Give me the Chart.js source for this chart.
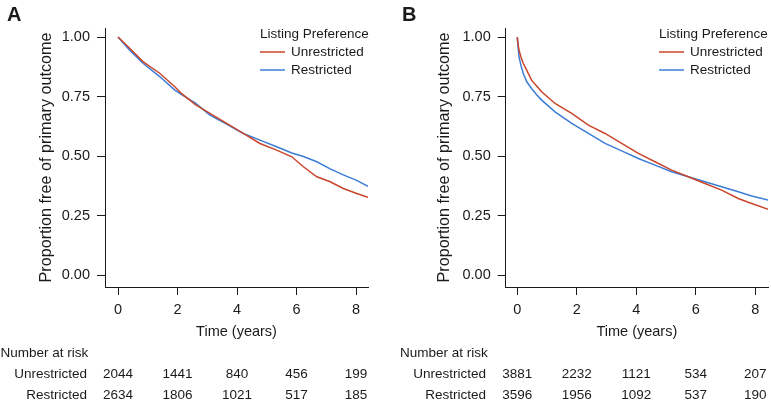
<!DOCTYPE html>
<html>
<head>
<meta charset="utf-8">
<script src="https://cdn.jsdelivr.net/npm/chart.js@4.4.0/dist/chart.umd.min.js"></script>
<style>
  html, body { margin: 0; padding: 0; background: #fff; }
  #wrap { position: relative; width: 771px; height: 402px; overflow: hidden; }
  #chartA { position: absolute; left: 0; top: 0; }
  #chartB { position: absolute; left: 385px; top: 0; }
</style>
</head>
<body>
<div id="wrap">
  <canvas id="chartA" width="385" height="402"></canvas>
  <canvas id="chartB" width="386" height="402"></canvas>
</div>
<script>
// DATA
var seriesNames = ['Unrestricted', 'Restricted'];
var legendTitle = 'Listing Preference';
var riskTimes = [0, 2, 4, 6, 8];
var yTicks = [0, 0.25, 0.5, 0.75, 1];

// panel A
var timeA = [0, 0.4, 0.85, 1.41, 1.9, 2.14, 2.6, 3.09, 3.65, 4.21, 4.77, 5.33, 5.84, 6.23, 6.68, 7.13, 7.57, 8.02, 8.4];
var unrestrictedA = [1.0, 0.952, 0.896, 0.847, 0.792, 0.762, 0.716, 0.679, 0.637, 0.595, 0.553, 0.525, 0.497, 0.455, 0.413, 0.392, 0.364, 0.343, 0.327];
var restrictedA = [1.0, 0.944, 0.889, 0.833, 0.778, 0.758, 0.722, 0.672, 0.634, 0.595, 0.567, 0.539, 0.513, 0.498, 0.476, 0.446, 0.421, 0.398, 0.373];
var riskUnrestrictedA = [2044, 1441, 840, 456, 199];
var riskRestrictedA = [2634, 1806, 1021, 517, 185];

// panel B
var timeB = [0, 0.03, 0.06, 0.12, 0.2, 0.32, 0.48, 0.65, 0.82, 1.27, 1.83, 2.39, 2.95, 3.51, 4.07, 4.63, 5.19, 5.75, 6.31, 6.87, 7.43, 7.88, 8.44];
var unrestrictedB = [1.0, 0.966, 0.945, 0.917, 0.89, 0.86, 0.819, 0.794, 0.770, 0.721, 0.679, 0.630, 0.595, 0.553, 0.511, 0.476, 0.441, 0.413, 0.385, 0.357, 0.322, 0.301, 0.276];
var restrictedB = [1.0, 0.952, 0.917, 0.882, 0.847, 0.812, 0.784, 0.758, 0.735, 0.686, 0.637, 0.595, 0.553, 0.522, 0.490, 0.462, 0.434, 0.413, 0.392, 0.371, 0.350, 0.332, 0.315];
var riskUnrestrictedB = [3881, 2232, 1121, 534, 207];
var riskRestrictedB = [3596, 1956, 1092, 537, 190];

// STYLE
var FONT = "'Liberation Sans', Arial, Helvetica, sans-serif";
var INK = '#1a1a1a';
var RED = '#c8462b';
var BLUE = '#3b7dd6';
Chart.defaults.font.family = FONT;
Chart.defaults.color = INK;

function pts(xs, ys) {
  return xs.map(function(x, i) { return {x: x, y: ys[i]}; });
}

function makeChart(id, letter, time, unres, res, riskU, riskR, lay) {
  // legend, panel letter and number-at-risk table
  var extras = {
    id: 'kmExtras' + letter,
    afterDraw: function(chart) {
      var ctx = chart.ctx;
      var xs = chart.scales.x;
      ctx.save();
      ctx.fillStyle = INK;

      // panel letter
      ctx.font = 'bold 20px ' + FONT;
      ctx.textBaseline = 'alphabetic';
      ctx.textAlign = 'left';
      ctx.fillText(letter, lay.letterX, 21);

      // legend
      ctx.font = '13.5px ' + FONT;
      ctx.textBaseline = 'middle';
      ctx.fillText(legendTitle, lay.legendX, 34);
      chart.data.datasets.forEach(function(ds, i) {
        var y = 52 + i * 18;
        ctx.strokeStyle = ds.borderColor;
        ctx.lineWidth = 1.5;
        ctx.beginPath();
        ctx.moveTo(lay.legendX, y);
        ctx.lineTo(lay.legendX + 25, y);
        ctx.stroke();
        ctx.fillText(ds.label, lay.legendX + 31, y);
      });

      // number at risk
      ctx.fillText('Number at risk', lay.tableLeft, 353);
      var rows = [riskU, riskR];
      rows.forEach(function(row, r) {
        var y = 374 + r * 21;
        ctx.textAlign = 'right';
        ctx.fillText(seriesNames[r], lay.rowRight, y);
        ctx.textAlign = 'center';
        row.forEach(function(n, j) {
          ctx.fillText(String(n), xs.getPixelForValue(riskTimes[j]), y);
        });
      });
      ctx.restore();
    }
  };

  return new Chart(document.getElementById(id), {
    type: 'line',
    data: {
      datasets: [{
        label: seriesNames[0],
        data: pts(time, unres),
        borderColor: RED,
        borderWidth: 1.5,
        pointRadius: 0,
        tension: 0,
        fill: false
      }, {
        label: seriesNames[1],
        data: pts(time, res),
        borderColor: BLUE,
        borderWidth: 1.5,
        pointRadius: 0,
        tension: 0,
        fill: false
      }]
    },
    options: {
      responsive: false,
      animation: false,
      layout: { padding: { left: 0, top: 28, right: lay.padRight, bottom: 61 } },
      plugins: {
        legend: { display: false },
        tooltip: { enabled: false }
      },
      scales: {
        x: {
          type: 'linear',
          min: lay.xMin,
          max: lay.xMax,
          afterBuildTicks: function(axis) {
            axis.ticks = riskTimes.map(function(v) { return {value: v}; });
          },
          afterFit: function(axis) {
            axis.height = 54;
            axis.paddingLeft = 0;
            axis.paddingRight = 0;
          },
          border: { display: true, color: INK, width: 1 },
          grid: { drawOnChartArea: false, drawTicks: true, tickLength: 8, color: INK },
          ticks: { color: INK, padding: 6, maxRotation: 0, autoSkip: false, font: { size: 14.5 } },
          title: { display: true, text: 'Time (years)', color: INK, padding: 0, font: { size: 14.5 } }
        },
        y: {
          min: -0.05,
          max: 1.038,
          afterBuildTicks: function(axis) {
            axis.ticks = yTicks.map(function(v) { return {value: v}; });
          },
          afterFit: function(axis) {
            axis.width = lay.axisWidth;
            axis.paddingTop = 0;
            axis.paddingBottom = 0;
          },
          border: { display: true, color: INK, width: 1 },
          grid: { drawOnChartArea: false, drawTicks: true, tickLength: 8, color: INK },
          ticks: {
            color: INK, padding: 7, font: { size: 14.5 },
            callback: function(v) { return Number(v).toFixed(2); }
          },
          title: {
            display: true, text: 'Proportion free of primary outcome', color: INK,
            padding: { top: lay.titleX - 9.7, bottom: 0 }, font: { size: 16.2 }
          }
        }
      }
    },
    plugins: [extras]
  });
}

var chartA = makeChart('chartA', 'A', timeA, unrestrictedA, restrictedA, riskUnrestrictedA, riskRestrictedA, {
  axisWidth: 105, padRight: 17, xMin: -0.437, xMax: 8.4, titleX: 47,
  legendX: 260, tableLeft: 0.5, rowRight: 87, letterX: 7
});
var chartB = makeChart('chartB', 'B', timeB, unrestrictedB, restrictedB, riskUnrestrictedB, riskRestrictedB, {
  axisWidth: 120.7, padRight: 3, xMin: -0.39, xMax: 8.43, titleX: 60,
  legendX: 274, tableLeft: 15, rowRight: 101, letterX: 17
});
</script>
</body>
</html>
